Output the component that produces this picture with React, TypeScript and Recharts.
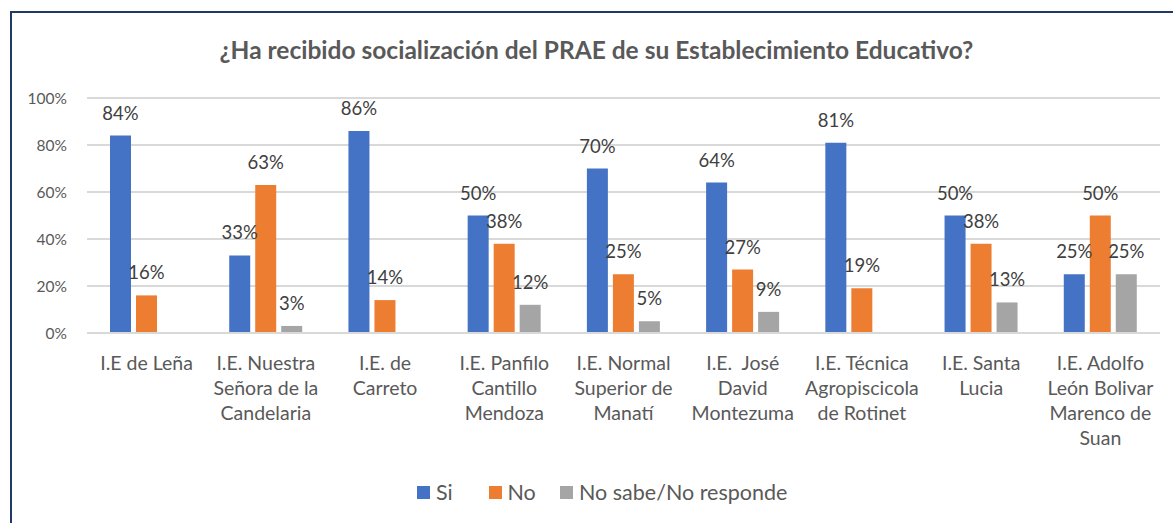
import { BarChart, Bar, XAxis, YAxis, CartesianGrid, LabelList, Legend } from 'recharts'

const categories = [
    'I.E de Leña',
    'I.E. Nuestra Señora de la Candelaria',
    'I.E. de Carreto',
    'I.E. Panfilo Cantillo Mendoza',
    'I.E. Normal Superior de Manatí',
    'I.E.  José David Montezuma',
    'I.E. Técnica Agropiscicola de Rotinet',
    'I.E. Santa Lucia',
    'I.E. Adolfo León Bolivar Marenco de Suan',
]

// how each category label wraps under the axis
const categoryLines = [
    ['I.E de Leña'],
    ['I.E. Nuestra', 'Señora de la', 'Candelaria'],
    ['I.E. de', 'Carreto'],
    ['I.E. Panfilo', 'Cantillo', 'Mendoza'],
    ['I.E. Normal', 'Superior de', 'Manatí'],
    ['I.E.  José', 'David', 'Montezuma'],
    ['I.E. Técnica', 'Agropiscicola', 'de Rotinet'],
    ['I.E. Santa', 'Lucia'],
    ['I.E. Adolfo', 'León Bolivar', 'Marenco de', 'Suan'],
]

const si = [84, 33, 86, 50, 70, 64, 81, 50, 25]
const no = [16, 63, 14, 38, 25, 27, 19, 38, 50]
const noSabe = [null, 3, null, 12, 5, 9, null, 13, 25]

const seriesNames = ['Si', 'No', 'No sabe/No responde']
const seriesColors = ['#4472C4', '#ED7D31', '#A5A5A5']

const yTicks = [0, 20, 40, 60, 80, 100]

const title = '¿Ha recibido socialización del PRAE de su Establecimiento Educativo?'

const data = categories.map((name, i) => ({
    name,
    si: si[i],
    no: no[i],
    noSabe: noSabe[i],
}))

const pct = (v: any) => (v == null ? '' : `${v}%`)

function CategoryTick({ x, y, payload }: any) {
    const lines = categoryLines[payload.index] ?? [payload.value]
    return (
        <text x={x} y={y + 37} textAnchor="middle" fill="#595959" fontSize={19.5}>
            {lines.map((line: string, i: number) => (
                <tspan key={i} x={x} dy={i === 0 ? 0 : 25} style={{ whiteSpace: 'pre' }}>
                    {line}
                </tspan>
            ))}
        </text>
    )
}

// legend keeps the series order (recharts sorts by name otherwise)
function LegendContent() {
    return (
        <div style={{ display: 'flex', alignItems: 'center', fontSize: 21.5, color: '#595959' }}>
            {seriesNames.map((name, i) => (
                <div key={name} style={{ display: 'flex', alignItems: 'center', minWidth: 71.5 }}>
                    <span style={{ width: 13, height: 13, background: seriesColors[i], marginRight: 6, display: 'inline-block' }} />
                    <span>{name}</span>
                </div>
            ))}
        </div>
    )
}

export default function App() {
    return (
        <div style={{ position: 'fixed', left: 0, top: 0, width: 1173, height: 523, overflow: 'hidden', background: '#fff', fontFamily: 'Lato, sans-serif' }}>
            <div style={{ position: 'absolute', left: 10, top: 11, width: 1300, height: 700, border: '2px solid #203864' }} />
            <div style={{ position: 'absolute', left: 20, top: 38, width: 1153, textAlign: 'center', fontSize: 24.5, lineHeight: '24px', fontWeight: 'bold', color: '#595959' }}>
                {title}
            </div>
            <div style={{ position: 'absolute', left: 0, top: 0 }}>
                <BarChart
                    width={1173}
                    height={523}
                    data={data}
                    margin={{ top: 98, right: 13, bottom: 90, left: 27 }}
                    barSize={21}
                    barGap={5}
                >
                    <CartesianGrid vertical={false} stroke="#d9d9d9" strokeWidth={2} />
                    <XAxis
                        dataKey="name"
                        interval={0}
                        height={100}
                        tickLine={false}
                        tickSize={0}
                        tickMargin={0}
                        axisLine={{ stroke: '#d9d9d9', strokeWidth: 2 }}
                        tick={<CategoryTick />}
                    />
                    <YAxis
                        width={60}
                        domain={[0, 100]}
                        ticks={yTicks}
                        tickFormatter={(v) => `${v}%`}
                        axisLine={false}
                        tickLine={false}
                        tickSize={0}
                        tickMargin={20}
                        tick={{ fill: '#595959', fontSize: 15.5 }}
                    />
                    <Legend
                        layout="horizontal"
                        verticalAlign="middle"
                        align="center"
                        wrapperStyle={{ top: 479, left: 417, width: 'auto' }}
                        content={<LegendContent />}
                    />
                    <Bar dataKey="si" name={seriesNames[0]} fill={seriesColors[0]} isAnimationActive={false}>
                        <LabelList dataKey="si" position="top" offset={16} formatter={pct} fill="#404040" fontSize={18.5} />
                    </Bar>
                    <Bar dataKey="no" name={seriesNames[1]} fill={seriesColors[1]} isAnimationActive={false}>
                        <LabelList dataKey="no" position="top" offset={16} formatter={pct} fill="#404040" fontSize={18.5} />
                    </Bar>
                    <Bar dataKey="noSabe" name={seriesNames[2]} fill={seriesColors[2]} isAnimationActive={false}>
                        <LabelList dataKey="noSabe" position="top" offset={16} formatter={pct} fill="#404040" fontSize={18.5} />
                    </Bar>
                </BarChart>
            </div>
        </div>
    )
}
